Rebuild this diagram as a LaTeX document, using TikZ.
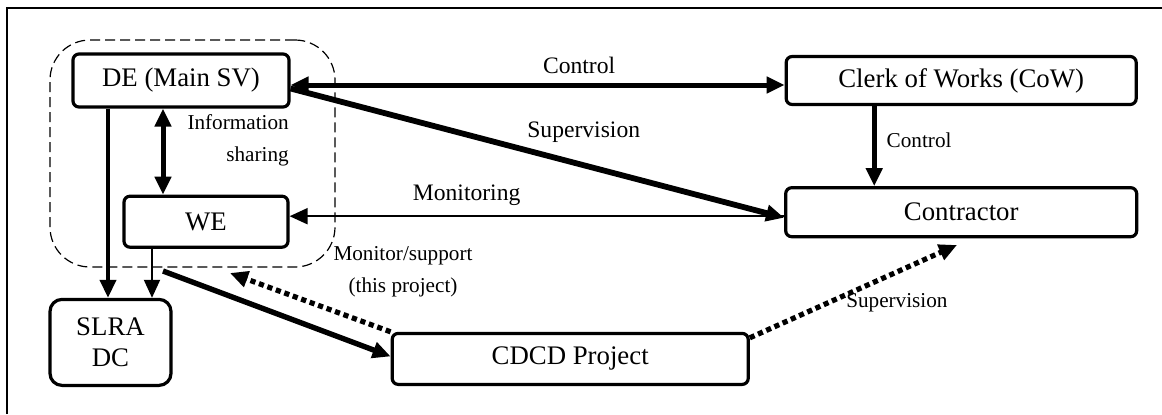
\documentclass[tikz,border=0pt]{standalone}
\usepackage{fontspec}
\setmainfont{Liberation Serif}
\usetikzlibrary{positioning, arrows.meta}
\tikzset{
    x=0.5pt, y=-0.5pt, % one unit is one pixel of the figure
    >={Triangle[length=9pt,width=8pt]},
    box/.style={draw, line width=1.6pt, rounded corners=3pt, inner sep=0pt, align=center,
        font=\fontsize{13.4}{15.5}\selectfont},
    group/.style={draw, line width=0.6pt, dash pattern=on 5pt off 2.5pt, rounded corners=20pt},
    thk/.style={line width=2.5pt},
    thn/.style={line width=1pt},
    dots/.style={line width=2.6pt, dash pattern=on 2.6pt off 1.9pt},
    lbl/.style={inner sep=1pt, font=\fontsize{11.8}{16}\selectfont},
    slbl/.style={inner sep=1pt, font=\fontsize{10.6}{16}\selectfont},
    frame/.style={line width=0.8pt},
}
\begin{document}
\begin{tikzpicture}
    \useasboundingbox (0,0) rectangle (1162,414);
    \draw[frame] (7,414) -- (7,8) -- (1162,8);

    \node[box, minimum width=108pt, minimum height=26.5pt] (DE) at (181,80.5) {DE (Main SV)};
    \node[box, minimum width=82pt, minimum height=25.5pt, below=43pt of DE, xshift=12.5pt] (WE) {WE};
    \node[box, minimum width=60.5pt, minimum height=43pt, rounded corners=6pt,
        below=24.5pt of WE, xshift=-47.75pt] (SLRA) {SLRA\\DC};
    \node[box, minimum width=178pt, minimum height=25.5pt, right=109pt of SLRA, yshift=-8.25pt] (CDCD) {CDCD Project};
    \node[box, minimum width=175pt, minimum height=24pt, right=247pt of DE] (Clerk) {Clerk of Works (CoW)};
    \node[box, minimum width=175.5pt, minimum height=24.5pt, below=40pt of Clerk] (Contractor) {Contractor};

    \node[group, minimum width=142.5pt, minimum height=113.5pt] (grp) at (192.5,153.5) {};

    \coordinate (ctlA) at ([yshift=-2.25pt]DE.east);
    \coordinate (monA) at ([yshift=2.75pt]WE.east);
    \coordinate (infA) at ([xshift=-9pt]DE.south);
    \coordinate (slA) at ([xshift=-1.25pt]SLRA.north);
    \coordinate (slB) at ([xshift=20.75pt]SLRA.north);
    \coordinate (prjA) at (163,271);
    \coordinate (supA) at (230,273);
    \coordinate (supB) at (957,245);

    \draw[thk, <->] (ctlA) -- (ctlA -| Clerk.west)
        node[lbl, pos=.584, above=3.5pt] {Control};
    \draw[thk, line width=2.9pt, ->] ([yshift=-4pt]DE.east) -- ([yshift=-2.75pt]Contractor.west)
        node[lbl, pos=.594, above=9pt] {Supervision};
    \draw[thn, <-] (monA) -- (monA -| Contractor.west)
        node[lbl, pos=.358, above=3.7pt] {Monitoring};
    \draw[thk, ->] ([xshift=-43.5pt]Clerk.south) -- ([xshift=-43.5pt]Contractor.north)
        node[slbl, pos=.43, right=4pt] {Control};
    \draw[thk, <->] (infA) -- (infA |- WE.north)
        node[slbl, align=right, pos=.37, right=10pt] {Information\\sharing};
    \draw[line width=2pt, ->] (slA |- DE.south) -- (slA);
    \draw[thn, ->] (slB |- WE.south) -- (slB);
    \draw[thk, line width=2.7pt, ->] (prjA) -- ([yshift=1.25pt]CDCD.west);
    \draw[dots, ->] (CDCD.north west) -- (supA);
    \node[slbl, align=center] (monlbl) at (403,272) {Monitor/support\\(this project)};
    \draw[dots, ->] ([yshift=-3pt]CDCD.north east) -- (supB)
        node[slbl, pos=.71, below=8.3pt] {Supervision};
\end{tikzpicture}
\end{document}
